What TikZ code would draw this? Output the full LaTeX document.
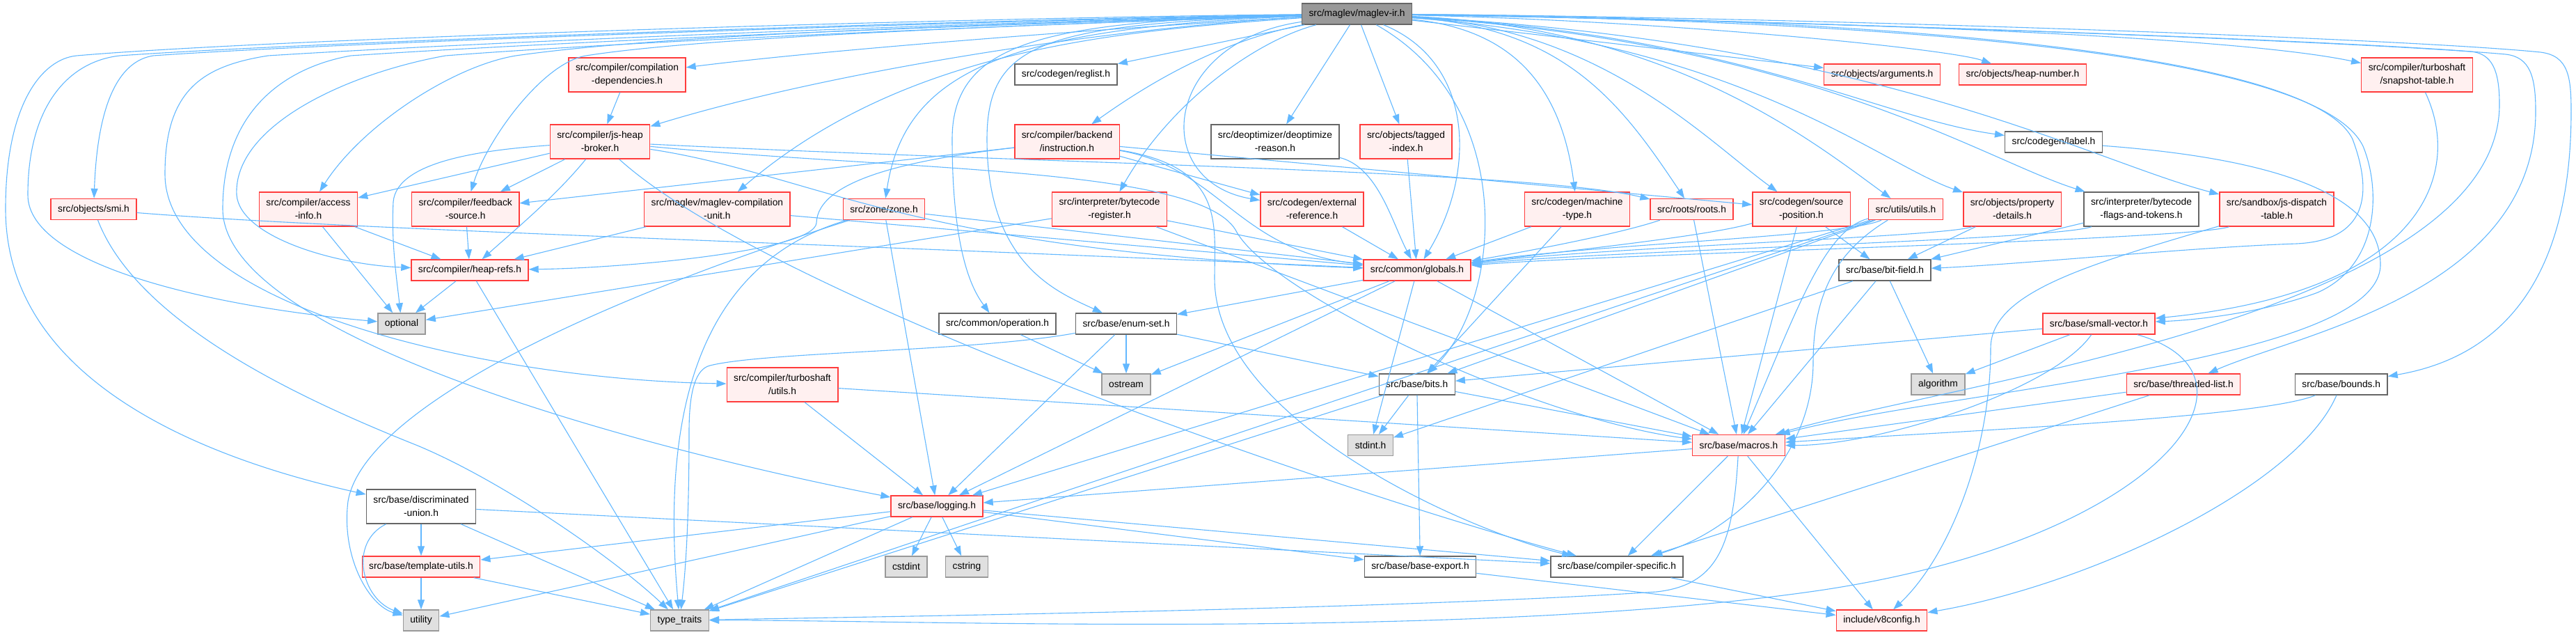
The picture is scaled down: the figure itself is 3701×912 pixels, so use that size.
\documentclass[tikz,border=0pt]{standalone}
\usepackage{fontspec}
\setmainfont{Liberation Sans}
\usepackage{tikz}
\usetikzlibrary{arrows.meta}
\definecolor{strelplava}{RGB}{99,184,255}
\definecolor{fajlcrvena}{RGB}{255,240,240}
\definecolor{okvircrvena}{RGB}{255,60,60}
\definecolor{fajlsiva}{RGB}{224,224,224}
\definecolor{okvirsiva}{RGB}{153,153,153}
\definecolor{okvirtamna}{RGB}{102,102,102}
\definecolor{korensiva}{RGB}{153,153,153}

\begin{document}
\begin{tikzpicture}[
    x=1pt, y=-1pt,
    fajl/.style={rectangle,draw=okvirtamna,fill=white,line width=1.4pt,inner xsep=10pt,
                 inner ysep=2pt,minimum height=30pt,align=center,
                 font=\fontsize{13.8}{19}\selectfont},
    fajlc/.style={fajl,draw=okvircrvena,fill=fajlcrvena},
    fajls/.style={fajl,draw=okvirsiva,fill=fajlsiva},
    fajlk/.style={fajl,fill=korensiva},
    dva/.style={minimum height=49pt},
    strelica/.style={-{Triangle[length=14pt,width=10pt]},line width=1.1pt,draw=strelplava}
]
\useasboundingbox (0,0) rectangle (3701,912);

\node[fajlk] (ir) at (1949.5,20) {src/maglev/maglev-ir.h};

\node[fajlc,dva] (compdeps) at (901,107.5) {src/compiler/compilation\\-dependencies.h};
\node[fajl] (reglist) at (1531.5,107) {src/codegen/reglist.h};
\node[fajlc] (arguments) at (2704,107) {src/objects/arguments.h};
\node[fajlc] (heapnumber) at (2906,107) {src/objects/heap-number.h};
\node[fajlc,dva] (snapshot) at (3472.5,107.5) {src/compiler/turboshaft\\/snapshot-table.h};

\node[fajlc,dva] (broker) at (862,203.5) {src/compiler/js-heap\\-broker.h};
\node[fajlc,dva] (instruction) at (1533,203.5) {src/compiler/backend\\/instruction.h};
\node[fajl,dva] (deoptreason) at (1832,203.5) {src/deoptimizer/deoptimize\\-reason.h};
\node[fajlc,dva] (taggedindex) at (2020,203.5) {src/objects/tagged\\-index.h};
\node[fajl] (label) at (2950.5,204) {src/codegen/label.h};

\node[fajlc] (smi) at (134.5,300.5) {src/objects/smi.h};
\node[fajlc,dva] (accessinfo) at (443,300.5) {src/compiler/access\\-info.h};
\node[fajlc,dva] (feedback) at (668.7,300.5) {src/compiler/feedback\\-source.h};
\node[fajlc,dva] (unit) at (1030.4,300.5) {src/maglev/maglev-compilation\\-unit.h};
\node[fajlc] (zone) at (1270,300.5) {src/zone/zone.h};
\node[fajlc,dva] (bcreg) at (1594,300.5) {src/interpreter/bytecode\\-register.h};
\node[fajlc,dva] (extref) at (1885,300.5) {src/codegen/external\\-reference.h};
\node[fajlc,dva] (machinetype) at (2266,300.5) {src/codegen/machine\\-type.h};
\node[fajlc] (roots) at (2430.5,300.5) {src/roots/roots.h};
\node[fajlc,dva] (sourcepos) at (2588,300.5) {src/codegen/source\\-position.h};
\node[fajlc] (utils) at (2738,300.5) {src/utils/utils.h};
\node[fajlc,dva] (propdetails) at (2891,300.5) {src/objects/property\\-details.h};
\node[fajl,dva] (flagstokens) at (3076.5,300.5) {src/interpreter/bytecode\\-flags-and-tokens.h};
\node[fajlc,dva] (dispatch) at (3271,300.5) {src/sandbox/js-dispatch\\-table.h};

\node[fajlc] (heaprefs) at (675,388) {src/compiler/heap-refs.h};
\node[fajlc] (globals) at (2036,388) {src/common/globals.h};
\node[fajl] (bitfield) at (2708,388) {src/base/bit-field.h};

\node[fajls] (optional) at (577,465) {optional};
\node[fajl] (operation) at (1433,465) {src/common/operation.h};
\node[fajl] (enumset) at (1618,465) {src/base/enum-set.h};
\node[fajlc] (smallvector) at (3015.5,465) {src/base/small-vector.h};

\node[fajlc,dva] (tsutils) at (1124,552.5) {src/compiler/turboshaft\\/utils.h};
\node[fajls] (ostream) at (1618,552) {ostream};
\node[fajl] (bits) at (2035.7,552) {src/base/bits.h};
\node[fajls] (algorithm) at (2784.5,552) {algorithm};
\node[fajlc] (threadedlist) at (3137,552) {src/base/threaded-list.h};
\node[fajl] (bounds) at (3363.7,552) {src/base/bounds.h};

\node[fajls] (stdint) at (1969,639.5) {stdint.h};
\node[fajlc] (macros) at (2498,639.5) {src/base/macros.h};

\node[fajl,dva] (discunion) at (605,727.5) {src/base/discriminated\\-union.h};
\node[fajlc] (logging) at (1346,727) {src/base/logging.h};

\node[fajlc] (templateutils) at (605,814) {src/base/template-utils.h};
\node[fajls] (cstdint) at (1302,814) {cstdint};
\node[fajls] (cstring) at (1389,814) {cstring};
\node[fajl] (baseexport) at (2040.5,814) {src/base/base-export.h};
\node[fajl] (compspec) at (2323,814) {src/base/compiler-specific.h};

\node[fajls] (utility) at (605,891) {utility};
\node[fajls] (typetraits) at (976.5,891) {type\_traits};
\node[fajlc] (v8config) at (2703.5,891) {include/v8config.h};

\draw[strelica] (ir) .. controls (1600,40) and (1200,70) .. (compdeps);
\draw[strelica] (ir) .. controls (1600,40) and (1200,100) .. (broker);
\draw[strelica] (ir) .. controls (1400,35) and (950,50) .. (741,80) .. controls (650,95) and (520,180) .. (accessinfo);
\draw[strelica] (ir) .. controls (1400,38) and (1000,55) .. (842,80) .. controls (780,90) and (700,200) .. (feedback);
\draw[strelica] (ir) .. controls (1400,38) and (900,60) .. (640,80) .. controls (500,105) and (335,180) .. (340,280) .. controls (345,340) and (480,380) .. (heaprefs);
\draw[strelica] (ir) .. controls (1400,30) and (500,60) .. (220,80) .. controls (170,88) and (140,150) .. (smi);
\draw[strelica] (ir) .. controls (1400,28) and (450,60) .. (172,80) .. controls (100,88) and (40,150) .. (40,280) .. controls (40,380) and (300,440) .. (optional);
\draw[strelica] (ir) .. controls (1400,25) and (400,55) .. (110,80) .. controls (60,85) and (8,150) .. (8,300) .. controls (8,550) and (300,660) .. (discunion);
\draw[strelica] (ir) .. controls (1400,32) and (700,60) .. (385,80) .. controls (290,95) and (237,130) .. (237,250) .. controls (237,440) and (700,545) .. (tsutils);
\draw[strelica] (ir) .. controls (1400,35) and (800,60) .. (504,80) .. controls (420,95) and (320,150) .. (320,300) .. controls (320,480) and (900,640) .. (logging);
\draw[strelica] (ir) .. controls (1600,45) and (1300,70) .. (unit);
\draw[strelica] (ir) .. controls (1450,40) and (1300,100) .. (zone);
\draw[strelica] (ir) .. controls (1500,30) and (1368,60) .. (1368,200) .. controls (1368,370) and (1400,420) .. (operation);
\draw[strelica] (ir) .. controls (1500,35) and (1418,60) .. (1418,200) .. controls (1418,380) and (1520,420) .. (enumset);
\draw[strelica] (ir) -- (reglist);
\draw[strelica] (ir) .. controls (1750,60) and (1650,120) .. (instruction);
\draw[strelica] (ir) .. controls (1800,60) and (1680,150) .. (bcreg);
\draw[strelica] (ir) -- (deoptreason);
\draw[strelica] (ir) .. controls (1670,60) and (1650,260) .. (extref);
\draw[strelica] (ir) -- (taggedindex);
\draw[strelica] (ir) .. controls (2120,90) and (2120,250) .. (globals);
\draw[strelica] (ir) .. controls (2180,150) and (2160,430) .. (bits);
\draw[strelica] (ir) .. controls (2150,40) and (2240,100) .. (machinetype);
\draw[strelica] (ir) .. controls (2250,40) and (2330,150) .. (roots);
\draw[strelica] (ir) .. controls (2300,40) and (2450,200) .. (sourcepos);
\draw[strelica] (ir) .. controls (2400,40) and (2600,200) .. (utils);
\draw[strelica] (ir) -- (arguments);
\draw[strelica] (ir) .. controls (2400,30) and (2800,70) .. (heapnumber);
\draw[strelica] (ir) .. controls (2500,50) and (2700,170) .. (label);
\draw[strelica] (ir) .. controls (2500,60) and (2700,235) .. (propdetails);
\draw[strelica] (ir) .. controls (2600,60) and (2850,230) .. (flagstokens);
\draw[strelica] (ir) .. controls (2700,60) and (3000,230) .. (dispatch);
\draw[strelica] (ir) .. controls (2600,30) and (3200,50) .. (snapshot);
\draw[strelica] (ir) .. controls (2700,25) and (3320,75) .. (3380,200) .. controls (3410,280) and (3400,345) .. (3300,350) .. controls (3150,355) and (2900,380) .. (bitfield);
\draw[strelica] (ir) .. controls (2720,30) and (3330,75) .. (3395,210) .. controls (3420,270) and (3420,380) .. (3330,420) .. controls (3250,450) and (3150,460) .. (smallvector);
\draw[strelica] (ir) .. controls (2600,30) and (3350,58) .. (3550,74) .. controls (3580,77) and (3591,100) .. (3591,150) .. controls (3591,450) and (2800,550) .. (macros);
\draw[strelica] (ir) .. controls (2600,30) and (3400,60) .. (3600,78) .. controls (3635,82) and (3643,110) .. (3643,160) .. controls (3643,420) and (3300,480) .. (threadedlist);
\draw[strelica] (ir) .. controls (2600,25) and (3450,55) .. (3650,75) .. controls (3690,80) and (3694,110) .. (3694,160) .. controls (3694,450) and (3550,520) .. (bounds);

\draw[strelica] (compdeps) -- (broker);
\draw[strelica] (broker) -- (accessinfo);
\draw[strelica] (broker) -- (feedback);
\draw[strelica] (broker) .. controls (800,280) and (740,330) .. (heaprefs);
\draw[strelica] (broker) .. controls (700,215) and (570,230) .. (565,290) .. controls (562,350) and (570,400) .. (optional);
\draw[strelica] (broker) .. controls (1170,250) and (1300,360) .. (globals);
\draw[strelica] (broker) .. controls (1500,235) and (2200,245) .. (roots);
\draw[strelica] (broker) .. controls (1300,245) and (1720,240) .. (1775,330) .. controls (1820,420) and (2200,600) .. (macros);
\draw[strelica] (broker) .. controls (1100,420) and (1900,700) .. (compspec);
\draw[strelica] (instruction) -- (feedback);
\draw[strelica] (instruction) .. controls (1300,230) and (1175,260) .. (1173,320) .. controls (1171,360) and (900,385) .. (heaprefs);
\draw[strelica] (instruction) -- (extref);
\draw[strelica] (instruction) -- (sourcepos);
\draw[strelica] (instruction) .. controls (1750,240) and (1780,360) .. (globals);
\draw[strelica] (instruction) .. controls (1760,240) and (1745,320) .. (1745,400) .. controls (1745,600) and (2100,760) .. (compspec);
\draw[strelica] (deoptreason) .. controls (1980,240) and (2000,320) .. (globals);
\draw[strelica] (taggedindex) -- (globals);
\draw[strelica] (label) .. controls (3300,230) and (3420,290) .. (3420,380) .. controls (3420,520) and (2800,560) .. (macros);
\draw[strelica] (snapshot) .. controls (3540,250) and (3480,420) .. (smallvector);
\draw[strelica] (smi) .. controls (500,330) and (1200,350) .. (globals);
\draw[strelica] (smi) .. controls (200,470) and (450,580) .. (600,640) .. controls (720,690) and (880,800) .. (typetraits);
\draw[strelica] (accessinfo) -- (heaprefs);
\draw[strelica] (accessinfo) -- (optional);
\draw[strelica] (feedback) -- (heaprefs);
\draw[strelica] (unit) -- (heaprefs);
\draw[strelica] (unit) -- (globals);
\draw[strelica] (zone) -- (globals);
\draw[strelica] (zone) -- (logging);
\draw[strelica] (zone) .. controls (1000,380) and (950,600) .. (typetraits);
\draw[strelica] (zone) .. controls (800,450) and (520,600) .. (500,720) .. controls (490,800) and (530,870) .. (utility);
\draw[strelica] (bcreg) -- (optional);
\draw[strelica] (bcreg) -- (globals);
\draw[strelica] (bcreg) -- (macros);
\draw[strelica] (extref) -- (globals);
\draw[strelica] (machinetype) -- (globals);
\draw[strelica] (machinetype) -- (bits);
\draw[strelica] (roots) .. controls (2330,335) and (2200,360) .. (globals);
\draw[strelica] (roots) -- (macros);
\draw[strelica] (sourcepos) .. controls (2450,340) and (2250,360) .. (globals);
\draw[strelica] (sourcepos) -- (bitfield);
\draw[strelica] (sourcepos) -- (macros);
\draw[strelica] (utils) .. controls (2650,340) and (2300,350) .. (globals);
\draw[strelica] (utils) -- (bits);
\draw[strelica] (utils) -- (logging);
\draw[strelica] (utils) .. controls (2620,330) and (2580,450) .. (macros);
\draw[strelica] (utils) .. controls (2640,360) and (2605,420) .. (2605,520) .. controls (2605,650) and (2500,760) .. (compspec);
\draw[strelica] (utils) -- (typetraits);
\draw[strelica] (propdetails) .. controls (2800,340) and (2300,355) .. (globals);
\draw[strelica] (propdetails) -- (bitfield);
\draw[strelica] (flagstokens) .. controls (2950,345) and (2300,360) .. (globals);
\draw[strelica] (flagstokens) -- (bitfield);
\draw[strelica] (dispatch) .. controls (3150,345) and (2300,365) .. (globals);
\draw[strelica] (dispatch) .. controls (3000,380) and (2860,420) .. (2860,500) .. controls (2860,650) and (2800,800) .. (v8config);
\draw[strelica] (heaprefs) -- (optional);
\draw[strelica] (heaprefs) -- (typetraits);
\draw[strelica] (globals) -- (enumset);
\draw[strelica] (globals) -- (ostream);
\draw[strelica] (globals) -- (logging);
\draw[strelica] (globals) -- (stdint);
\draw[strelica] (globals) -- (macros);
\draw[strelica] (bitfield) -- (stdint);
\draw[strelica] (bitfield) -- (macros);
\draw[strelica] (bitfield) -- (algorithm);
\draw[strelica] (operation) -- (ostream);
\draw[strelica] (enumset) -- (ostream);
\draw[strelica] (enumset) -- (bits);
\draw[strelica] (enumset) -- (logging);
\draw[strelica] (enumset) .. controls (1400,505) and (1100,505) .. (1020,525) .. controls (1000,530) and (990,560) .. (990,620) .. controls (990,750) and (985,820) .. (typetraits);
\draw[strelica] (smallvector) -- (algorithm);
\draw[strelica] (smallvector) -- (bits);
\draw[strelica] (smallvector) .. controls (2950,560) and (2700,640) .. (macros);
\draw[strelica] (smallvector) .. controls (3280,540) and (3100,780) .. (2600,850) .. controls (2100,920) and (1300,890) .. (typetraits);
\draw[strelica] (tsutils) -- (logging);
\draw[strelica] (tsutils) -- (macros);
\draw[strelica] (bits) -- (stdint);
\draw[strelica] (bits) -- (macros);
\draw[strelica] (bits) -- (baseexport);
\draw[strelica] (bits) -- (typetraits);
\draw[strelica] (threadedlist) -- (macros);
\draw[strelica] (threadedlist) -- (compspec);
\draw[strelica] (bounds) .. controls (3250,600) and (2800,620) .. (macros);
\draw[strelica] (bounds) .. controls (3300,700) and (3000,840) .. (v8config);
\draw[strelica] (macros) -- (logging);
\draw[strelica] (macros) -- (compspec);
\draw[strelica] (macros) -- (v8config);
\draw[strelica] (macros) .. controls (2490,780) and (2470,840) .. (2380,850) .. controls (2000,875) and (1300,885) .. (typetraits);
\draw[strelica] (discunion) -- (templateutils);
\draw[strelica] (discunion) .. controls (500,780) and (520,860) .. (utility);
\draw[strelica] (discunion) -- (typetraits);
\draw[strelica] (discunion) -- (compspec);
\draw[strelica] (logging) -- (cstdint);
\draw[strelica] (logging) -- (cstring);
\draw[strelica] (logging) -- (templateutils);
\draw[strelica] (logging) -- (utility);
\draw[strelica] (logging) -- (typetraits);
\draw[strelica] (logging) -- (baseexport);
\draw[strelica] (logging) -- (compspec);
\draw[strelica] (templateutils) -- (utility);
\draw[strelica] (templateutils) -- (typetraits);
\draw[strelica] (baseexport) -- (v8config);
\draw[strelica] (compspec) -- (v8config);
\end{tikzpicture}
\end{document}
